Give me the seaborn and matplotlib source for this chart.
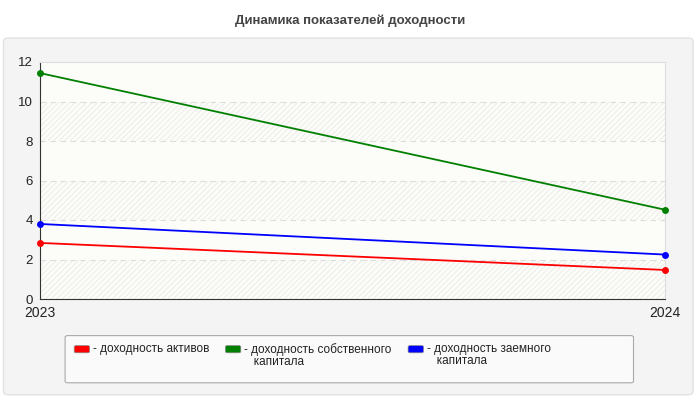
import matplotlib
import pandas as pd
import seaborn as sns
from matplotlib import pyplot as plt
from matplotlib.patches import FancyBboxPatch

matplotlib.use("Agg")

years = ["2023", "2024"]
series_names = ["доходность активов", "доходность собственного\nкапитала", "доходность заемного\nкапитала"]
assets_return = [2.84, 1.47]
equity_return = [11.44, 4.52]
debt_return = [3.80, 2.25]
colors = ["#ff0000", "#008000", "#0000ff"]

df = pd.DataFrame({
    "year": years * 3,
    "value": assets_return + equity_return + debt_return,
    "series": [series_names[0]] * 2 + [series_names[1]] * 2 + [series_names[2]] * 2,
})

sns.set_style("white")
plt.rcParams['font.family'] = ['Liberation Sans', 'DejaVu Sans']
plt.rcParams['font.size'] = 9
plt.rcParams['hatch.linewidth'] = 0.5

fig = plt.figure(figsize=(7, 4), dpi=100, facecolor="white")
# outer panel
fig.patches.append(FancyBboxPatch((0.005, 0.013), 0.985, 0.892, boxstyle="round,pad=0,rounding_size=0.008",
                                  transform=fig.transFigure, facecolor="#f4f4f4", edgecolor="#e2e2e2",
                                  linewidth=1, zorder=0))
ax = fig.add_axes([0.057, 0.2525, 0.893, 0.5925])
ax.set_zorder(3)
ax.set_facecolor("#fcfcf8")

# alternating hatched bands
for lo in range(0, 12, 2):
    if (lo // 2) % 2 == 0:
        ax.axhspan(lo, lo + 2, facecolor="none", edgecolor="#e6e6e6", hatch="//////", linewidth=0, zorder=0)

sns.lineplot(data=df, x="year", y="value", hue="series", palette=colors, marker="o",
             markersize=5, markeredgewidth=0, linewidth=1.3, ax=ax, legend=False, sort=False)
for line in ax.lines:
    line.set_clip_on(False)
    line.set_zorder(5)

ax.set_xlim(0, 1)
ax.set_ylim(0, 12)
ax.set_yticks(range(0, 13, 2))
ax.set_xlabel("")
ax.set_ylabel("")
for y in range(2, 12, 2):
    ax.axhline(y, color="#dddddd", linestyle=(0, (5, 4)), linewidth=0.8, zorder=1)
for side in ["top", "right"]:
    ax.spines[side].set_color("#dddddd")
for side in ["left", "bottom"]:
    ax.spines[side].set_color("#333333")
ax.tick_params(axis="both", length=4, width=0.8, color="#333333", labelsize=9.5, labelcolor="#222222", pad=1)
ax.tick_params(axis="x", labelsize=10)
ax.set_xticks([0, 1])
ax.set_xticklabels(years)

fig.text(0.5, 0.948, "Динамика показателей доходности", ha="center", va="center",
         fontsize=9.5, fontweight="bold", color="#444444")

# legend box
fig.patches.append(FancyBboxPatch((0.093, 0.043), 0.812, 0.118, boxstyle="round,pad=0,rounding_size=0.004",
                                  transform=fig.transFigure, facecolor="#fafafa", edgecolor="#aaaaaa",
                                  linewidth=0.8, zorder=1))
legend_x = [0.106, 0.322, 0.583]
for x0, name, c in zip(legend_x, series_names, colors):
    fig.patches.append(FancyBboxPatch((x0, 0.118), 0.022, 0.018, boxstyle="round,pad=0,rounding_size=0.003",
                                      transform=fig.transFigure, facecolor=c, edgecolor="#888888",
                                      linewidth=0.5, zorder=2))
    fig.text(x0 + 0.027, 0.142, "- " + name.replace("\n", "\n   "), ha="left", va="top",
             fontsize=8.5, color="#222222", linespacing=0.95, zorder=3)

plt.savefig("out.png", dpi=100, facecolor=fig.get_facecolor())
